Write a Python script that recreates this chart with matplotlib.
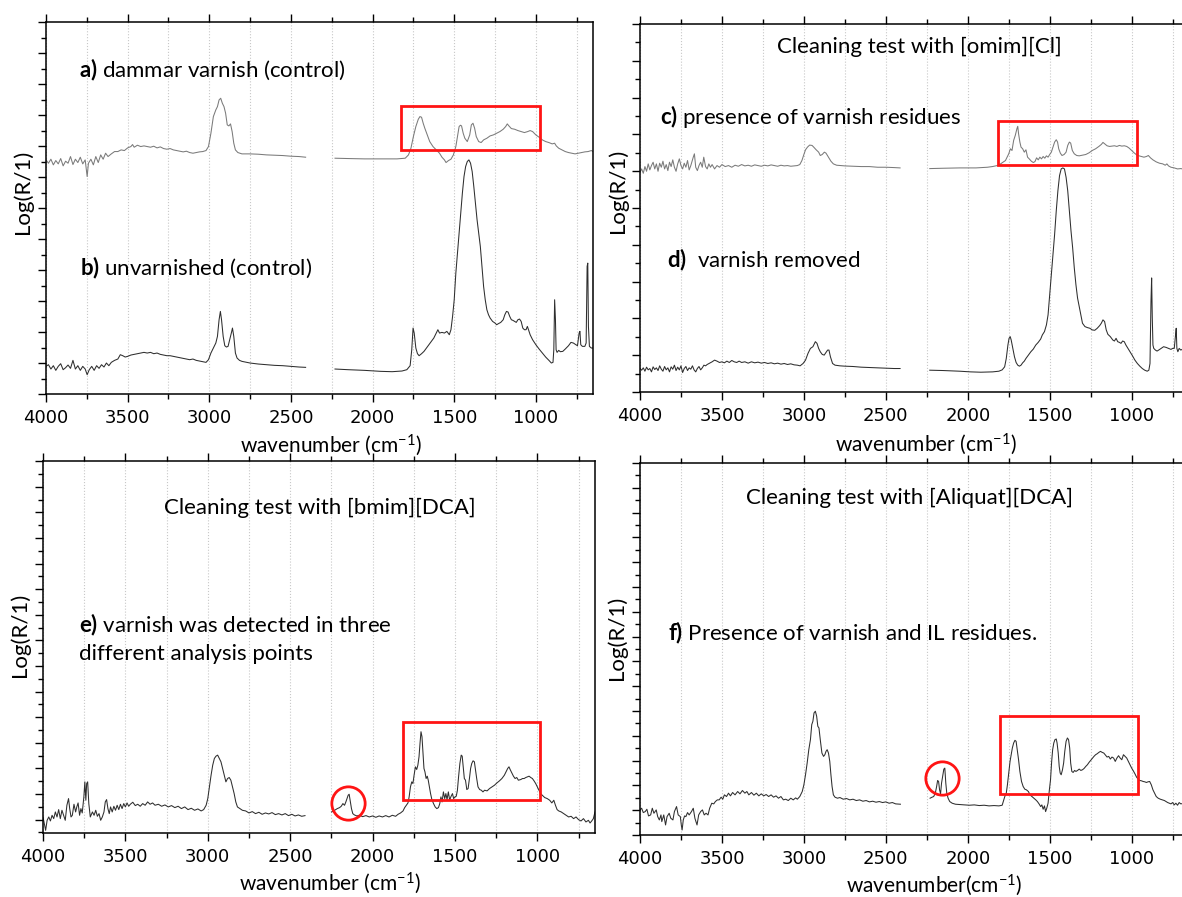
import numpy as np
import matplotlib
matplotlib.use('Agg')
import matplotlib.pyplot as plt
from matplotlib.ticker import MultipleLocator
from matplotlib.patches import Rectangle

plt.rcParams['font.family'] = ['Lato', 'DejaVu Sans']
plt.rcParams['mathtext.fontset'] = 'custom'
plt.rcParams['mathtext.rm'] = 'Lato'
plt.rcParams['mathtext.bf'] = 'Lato:bold'
plt.rcParams['mathtext.it'] = 'Lato:italic'

# ---------------- data (wavenumber, Log(R/1) in arbitrary units) ----------------
# panel a) dammar varnish (control)
a_seg1 = [(4000, 703), (3985, 693), (3970, 705), (3955, 688), (3940, 701), (3925, 691), (3910, 707),
          (3895, 685), (3880, 699), (3865, 693), (3850, 713), (3835, 689), (3820, 705), (3805, 695),
          (3790, 711), (3775, 691), (3760, 703), (3748, 653), (3740, 693), (3725, 705), (3710, 688),
          (3695, 713), (3680, 695), (3665, 718), (3650, 705), (3635, 723), (3620, 713), (3600, 721),
          (3580, 728), (3560, 728), (3540, 733), (3520, 731), (3500, 739), (3480, 743), (3470, 749),
          (3460, 741), (3440, 747), (3420, 743), (3400, 745), (3380, 743), (3360, 741), (3340, 744),
          (3320, 739), (3300, 742), (3280, 737), (3260, 735), (3240, 737), (3220, 733), (3200, 731),
          (3180, 729), (3160, 727), (3140, 729), (3120, 725), (3100, 723), (3080, 725), (3060, 727),
          (3040, 728), (3020, 731), (3005, 743), (2990, 783), (2975, 833), (2960, 853), (2950, 863),
          (2940, 883), (2930, 888), (2920, 873), (2910, 863), (2900, 843), (2890, 808), (2880, 805),
          (2870, 811), (2860, 788), (2850, 753), (2840, 733), (2825, 725), (2800, 721), (2750, 721),
          (2700, 720), (2650, 718), (2600, 717), (2550, 716), (2500, 714), (2450, 713), (2410, 711)]
a_seg2 = [(2230, 708), (2150, 707), (2050, 706), (1950, 706), (1850, 706), (1800, 708), (1780, 718),
          (1765, 738), (1750, 773), (1735, 803), (1720, 825), (1710, 833), (1700, 831), (1690, 813),
          (1680, 798), (1665, 778), (1650, 758), (1630, 743), (1610, 733), (1590, 723), (1575, 711),
          (1560, 703), (1550, 695), (1535, 701), (1520, 705), (1505, 718), (1490, 743), (1480, 773),
          (1470, 803), (1462, 807), (1455, 805), (1445, 783), (1435, 768), (1420, 758), (1405, 778),
          (1395, 808), (1385, 813), (1375, 798), (1365, 773), (1350, 758), (1335, 755), (1320, 763),
          (1300, 768), (1280, 775), (1260, 778), (1240, 783), (1220, 788), (1200, 795), (1185, 803),
          (1175, 811), (1165, 805), (1150, 797), (1130, 795), (1110, 791), (1090, 788), (1070, 785),
          (1050, 788), (1035, 791), (1020, 788), (1000, 778), (980, 771), (960, 763), (940, 758),
          (920, 755), (900, 751), (885, 753), (875, 745), (860, 738), (840, 733), (820, 728),
          (800, 725), (780, 723), (760, 721), (740, 723), (720, 725), (700, 727), (680, 728),
          (660, 731), (650, 728)]

# panel b) unvarnished (control)
b_seg1 = [(4000, 83), (3985, 88), (3970, 75), (3955, 85), (3940, 71), (3925, 83), (3910, 91), (3895, 73),
          (3880, 79), (3865, 87), (3850, 77), (3835, 101), (3820, 75), (3805, 85), (3790, 71), (3775, 83),
          (3760, 75), (3748, 58), (3735, 73), (3720, 83), (3705, 71), (3690, 85), (3675, 77), (3660, 88),
          (3645, 81), (3630, 93), (3615, 85), (3600, 95), (3580, 101), (3560, 105), (3545, 118),
          (3530, 115), (3515, 111), (3500, 113), (3480, 117), (3460, 119), (3440, 121), (3420, 123),
          (3400, 125), (3380, 123), (3360, 125), (3340, 121), (3320, 123), (3300, 119), (3280, 117),
          (3260, 115), (3240, 115), (3220, 113), (3200, 111), (3180, 109), (3160, 107), (3140, 105),
          (3120, 103), (3100, 105), (3080, 101), (3060, 99), (3040, 97), (3020, 95), (3005, 103),
          (2990, 123), (2975, 138), (2960, 153), (2950, 173), (2940, 223), (2932, 248), (2925, 223),
          (2915, 173), (2905, 145), (2895, 141), (2885, 143), (2875, 163), (2865, 183), (2858, 198),
          (2850, 173), (2840, 123), (2830, 108), (2815, 101), (2800, 98), (2750, 93), (2700, 90),
          (2650, 88), (2600, 86), (2550, 85), (2500, 83), (2450, 81), (2410, 80)]
b_seg2 = [(2230, 75), (2150, 73), (2050, 71), (1950, 68), (1880, 67), (1820, 69), (1790, 73), (1770, 85),
          (1760, 133), (1752, 198), (1745, 183), (1735, 138), (1725, 121), (1715, 115), (1700, 121),
          (1685, 128), (1670, 138), (1655, 148), (1640, 158), (1625, 168), (1610, 183), (1600, 193),
          (1590, 183), (1575, 185), (1560, 183), (1545, 188), (1530, 178), (1520, 193), (1510, 233),
          (1500, 283), (1490, 363), (1480, 423), (1470, 483), (1460, 543), (1450, 603), (1440, 653),
          (1430, 683), (1420, 698), (1410, 703), (1400, 693), (1390, 668), (1380, 623), (1370, 573),
          (1360, 523), (1350, 483), (1340, 443), (1330, 383), (1320, 323), (1310, 283), (1300, 253),
          (1290, 238), (1280, 228), (1265, 218), (1250, 213), (1240, 208), (1230, 211), (1215, 215),
          (1200, 223), (1190, 238), (1180, 248), (1170, 246), (1160, 233), (1150, 223), (1140, 221),
          (1130, 218), (1120, 215), (1110, 223), (1100, 225), (1090, 218), (1080, 198), (1070, 193),
          (1060, 193), (1052, 203), (1045, 193), (1035, 178), (1020, 163), (1000, 148), (980, 135),
          (960, 123), (940, 111), (920, 101), (905, 93), (895, 95), (890, 133), (885, 283), (880, 223),
          (876, 133), (870, 125), (860, 131), (850, 127), (835, 128), (820, 135), (800, 145), (785, 155),
          (770, 153), (755, 148), (745, 145), (735, 183), (730, 188), (725, 148), (715, 143), (700, 143),
          (692, 153), (686, 383), (682, 393), (678, 203), (672, 143), (660, 138), (650, 138)]

# panel c) presence of varnish residues
c_seg1 = [(4000, 655), (3990, 665), (3980, 652), (3970, 672), (3960, 658), (3950, 680), (3940, 662),
          (3930, 675), (3920, 685), (3910, 665), (3900, 680), (3890, 658), (3880, 682), (3870, 670),
          (3860, 688), (3850, 665), (3840, 678), (3830, 660), (3820, 685), (3810, 672), (3800, 692),
          (3790, 670), (3780, 658), (3770, 680), (3760, 695), (3750, 675), (3740, 665), (3730, 682),
          (3720, 670), (3710, 690), (3700, 662), (3690, 675), (3675, 700), (3668, 710), (3660, 670),
          (3650, 660), (3640, 675), (3630, 685), (3620, 670), (3611, 700), (3600, 672), (3590, 665),
          (3580, 680), (3570, 670), (3560, 678), (3545, 665), (3530, 675), (3515, 670), (3500, 678),
          (3480, 672), (3460, 675), (3440, 670), (3420, 676), (3400, 673), (3380, 678), (3360, 674),
          (3340, 676), (3320, 673), (3300, 677), (3280, 675), (3260, 673), (3240, 676), (3220, 674),
          (3200, 677), (3180, 675), (3160, 673), (3140, 676), (3120, 674), (3100, 675), (3080, 673),
          (3060, 674), (3040, 675), (3025, 678), (3012, 690), (3000, 708), (2990, 722), (2978, 730),
          (2965, 736), (2950, 735), (2940, 730), (2925, 722), (2910, 715), (2900, 705), (2888, 708),
          (2875, 715), (2865, 712), (2850, 700), (2835, 688), (2820, 680), (2800, 676), (2750, 674),
          (2700, 673), (2650, 672), (2600, 672), (2550, 670), (2500, 670), (2450, 669), (2413, 668)]
c_seg2 = [(2232, 666), (2150, 667), (2050, 668), (1950, 668), (1880, 670), (1850, 672), (1820, 675),
          (1800, 680), (1785, 685), (1770, 690), (1760, 700), (1750, 710), (1740, 725), (1730, 720),
          (1720, 750), (1710, 765), (1700, 785), (1695, 792), (1690, 770), (1682, 745), (1675, 730),
          (1665, 725), (1655, 715), (1645, 722), (1635, 700), (1625, 695), (1612, 688), (1600, 684),
          (1590, 687), (1580, 698), (1570, 692), (1560, 700), (1550, 695), (1540, 702), (1530, 697),
          (1520, 704), (1510, 700), (1500, 708), (1490, 715), (1480, 730), (1470, 745), (1460, 752),
          (1452, 745), (1445, 725), (1435, 712), (1425, 705), (1412, 708), (1400, 715), (1390, 735),
          (1380, 745), (1372, 742), (1362, 720), (1350, 710), (1335, 705), (1320, 704), (1300, 706),
          (1280, 708), (1260, 713), (1240, 720), (1220, 725), (1200, 732), (1185, 738), (1175, 744),
          (1165, 740), (1150, 734), (1135, 732), (1120, 733), (1105, 734), (1090, 732), (1075, 735),
          (1060, 733), (1045, 734), (1030, 732), (1015, 727), (1000, 720), (985, 713), (970, 707),
          (955, 704), (940, 702), (925, 700), (910, 702), (898, 705), (885, 698), (870, 692),
          (850, 686), (830, 682), (810, 680), (795, 676), (785, 680), (775, 674), (760, 670),
          (740, 668), (720, 665), (700, 666), (680, 664), (650, 665)]

# panel d) varnish removed
d_seg1 = [(4000, 70), (3990, 65), (3980, 72), (3970, 62), (3960, 74), (3950, 66), (3940, 70), (3930, 60),
          (3920, 75), (3910, 67), (3900, 72), (3890, 64), (3880, 78), (3870, 68), (3860, 62), (3850, 76),
          (3840, 66), (3830, 72), (3820, 60), (3810, 75), (3800, 68), (3790, 80), (3780, 64), (3770, 74),
          (3760, 66), (3750, 78), (3740, 58), (3730, 70), (3720, 76), (3710, 64), (3700, 72), (3690, 68),
          (3680, 78), (3670, 66), (3660, 60), (3650, 70), (3640, 76), (3630, 66), (3620, 72), (3610, 80),
          (3600, 78), (3590, 82), (3575, 86), (3560, 90), (3545, 95), (3530, 92), (3515, 88), (3500, 90),
          (3485, 87), (3470, 92), (3455, 88), (3440, 94), (3425, 90), (3410, 88), (3395, 92), (3380, 88),
          (3360, 90), (3340, 86), (3320, 90), (3300, 87), (3280, 89), (3260, 86), (3240, 88), (3220, 85),
          (3200, 87), (3180, 84), (3160, 86), (3140, 83), (3120, 85), (3100, 82), (3080, 84), (3060, 81),
          (3040, 80), (3023, 78), (3005, 85), (2990, 95), (2975, 115), (2960, 130), (2945, 135),
          (2930, 150), (2920, 145), (2910, 130), (2900, 120), (2888, 112), (2876, 110), (2865, 118),
          (2855, 125), (2847, 125), (2838, 105), (2825, 85), (2810, 80), (2780, 78), (2750, 77),
          (2700, 76), (2650, 74), (2600, 73), (2550, 72), (2500, 71), (2450, 70), (2413, 70)]
d_seg2 = [(2232, 65), (2150, 64), (2050, 62), (1983, 60), (1920, 59), (1848, 60), (1810, 62), (1790, 66),
          (1775, 75), (1765, 100), (1755, 140), (1748, 160), (1741, 165), (1735, 155), (1725, 130),
          (1715, 105), (1705, 88), (1695, 80), (1685, 77), (1675, 80), (1665, 87), (1655, 92),
          (1645, 100), (1630, 110), (1615, 120), (1600, 128), (1585, 140), (1570, 148), (1555, 158),
          (1545, 170), (1532, 180), (1520, 200), (1510, 230), (1500, 290), (1490, 350), (1480, 410),
          (1470, 470), (1460, 540), (1450, 600), (1440, 645), (1430, 665), (1420, 668), (1410, 665),
          (1400, 640), (1390, 600), (1380, 540), (1370, 480), (1360, 430), (1350, 370), (1340, 320),
          (1330, 280), (1320, 255), (1310, 230), (1300, 205), (1285, 195), (1270, 192), (1255, 190),
          (1240, 185), (1225, 184), (1210, 190), (1195, 198), (1185, 205), (1175, 215), (1165, 210),
          (1155, 185), (1145, 172), (1130, 165), (1115, 155), (1105, 152), (1095, 160), (1085, 150),
          (1075, 148), (1065, 145), (1055, 152), (1045, 150), (1035, 140), (1025, 132), (1010, 120),
          (995, 108), (980, 95), (965, 85), (950, 77), (935, 70), (920, 65), (905, 62), (895, 65),
          (888, 85), (882, 270), (878, 340), (874, 220), (870, 140), (865, 130), (855, 125), (845, 122),
          (835, 125), (820, 130), (805, 135), (790, 133), (775, 130), (760, 127), (750, 130), (740, 130),
          (732, 170), (728, 190), (724, 130), (718, 120), (710, 130), (700, 125), (680, 130), (650, 128)]

# panel e) [bmim][DCA]
e_seg1 = [(4000, 8), (3992, -12), (3984, -32), (3975, -2), (3965, 8), (3955, -4), (3945, 13), (3935, 3),
          (3925, 23), (3915, 8), (3905, 30), (3895, 3), (3885, 28), (3875, 13), (3865, -2), (3855, 43),
          (3845, 63), (3838, 33), (3830, 8), (3822, 13), (3812, 46), (3802, 23), (3795, 38), (3787, 50),
          (3778, 13), (3770, 33), (3762, 20), (3752, 68), (3746, 113), (3740, 58), (3735, 108),
          (3729, 113), (3722, 48), (3713, 8), (3700, 23), (3690, 13), (3680, 28), (3670, 10), (3660, 18),
          (3650, -2), (3640, 8), (3630, 23), (3622, 53), (3614, 60), (3606, 33), (3598, 18), (3590, 38),
          (3580, 23), (3570, 40), (3560, 28), (3550, 43), (3540, 30), (3530, 46), (3520, 33), (3510, 48),
          (3500, 38), (3490, 50), (3480, 40), (3470, 46), (3455, 52), (3440, 42), (3425, 46), (3410, 40),
          (3395, 48), (3380, 43), (3365, 53), (3350, 46), (3335, 50), (3320, 43), (3300, 46), (3280, 40),
          (3260, 44), (3240, 38), (3220, 42), (3200, 36), (3180, 40), (3160, 33), (3140, 38), (3120, 30),
          (3100, 34), (3080, 28), (3060, 32), (3040, 26), (3025, 30), (3010, 43), (3000, 63), (2990, 98),
          (2980, 133), (2970, 163), (2960, 183), (2950, 190), (2940, 193), (2930, 183), (2920, 173),
          (2910, 153), (2900, 133), (2890, 113), (2880, 123), (2870, 126), (2860, 118), (2850, 98),
          (2840, 78), (2830, 53), (2820, 38), (2805, 33), (2790, 28), (2770, 26), (2750, 20), (2730, 24),
          (2710, 18), (2690, 22), (2670, 16), (2650, 20), (2630, 17), (2610, 21), (2590, 15), (2570, 18),
          (2550, 14), (2530, 18), (2510, 12), (2490, 16), (2470, 11), (2450, 14), (2430, 10), (2410, 12)]
e_seg2 = [(2249, 23), (2230, 28), (2214, 33), (2200, 36), (2190, 40), (2180, 48), (2170, 43), (2162, 53),
          (2155, 63), (2148, 73), (2142, 76), (2136, 58), (2128, 33), (2120, 18), (2110, 14), (2095, 11),
          (2080, 13), (2060, 9), (2040, 12), (2020, 8), (2000, 11), (1980, 7), (1960, 11), (1940, 8),
          (1920, 12), (1900, 8), (1880, 13), (1860, 10), (1845, 16), (1830, 20), (1815, 26), (1805, 36),
          (1795, 43), (1785, 50), (1778, 68), (1770, 98), (1762, 113), (1755, 108), (1748, 133),
          (1740, 158), (1732, 150), (1725, 163), (1718, 188), (1712, 228), (1706, 263), (1700, 248),
          (1694, 198), (1688, 153), (1682, 143), (1675, 123), (1668, 130), (1662, 118), (1655, 98),
          (1648, 78), (1640, 60), (1630, 48), (1620, 38), (1610, 33), (1600, 36), (1592, 48), (1585, 68),
          (1578, 53), (1570, 83), (1562, 63), (1555, 78), (1548, 60), (1540, 83), (1532, 58), (1525, 68),
          (1515, 78), (1508, 63), (1500, 68), (1492, 70), (1485, 88), (1478, 128), (1470, 168),
          (1462, 193), (1456, 190), (1450, 158), (1443, 123), (1436, 118), (1428, 90), (1420, 93),
          (1412, 123), (1405, 153), (1398, 168), (1390, 176), (1382, 173), (1375, 148), (1368, 123),
          (1360, 98), (1350, 90), (1340, 88), (1330, 83), (1320, 88), (1305, 86), (1290, 93), (1275, 98),
          (1260, 103), (1245, 110), (1230, 116), (1215, 123), (1200, 133), (1190, 143), (1180, 153),
          (1172, 158), (1165, 150), (1155, 140), (1145, 130), (1135, 123), (1125, 126), (1115, 118),
          (1100, 120), (1090, 123), (1080, 123), (1070, 126), (1060, 128), (1050, 130), (1040, 126),
          (1030, 123), (1020, 116), (1010, 108), (1000, 98), (990, 88), (980, 78), (970, 73), (955, 66),
          (940, 63), (925, 58), (912, 50), (900, 58), (890, 43), (880, 30), (870, 26), (855, 23), (840, 18),
          (825, 13), (810, 8), (795, 10), (780, 3), (765, 8), (750, 0), (735, -4), (720, 3), (705, -7),
          (690, -2), (680, -10), (670, -4), (660, 3), (650, 23)]

# panel f) [Aliquat][DCA]
f_seg1 = [(4000, 75), (3990, 80), (3980, 67), (3968, 70), (3958, 77), (3948, 57), (3935, 60), (3925, 80),
          (3915, 65), (3901, 75), (3892, 55), (3882, 45), (3872, 60), (3867, 40), (3855, 60), (3844, 30),
          (3835, 55), (3822, 65), (3812, 50), (3799, 45), (3790, 70), (3777, 85), (3767, 60), (3754, 55),
          (3748, 30), (3743, 15), (3736, 45), (3728, 57), (3720, 55), (3710, 67), (3700, 60), (3686, 70),
          (3675, 80), (3665, 50), (3652, 30), (3642, 60), (3630, 70), (3619, 75), (3608, 60), (3597, 65),
          (3585, 60), (3575, 80), (3562, 95), (3550, 93), (3540, 100), (3528, 105), (3517, 105),
          (3505, 113), (3495, 107), (3485, 120), (3472, 115), (3460, 125), (3448, 117), (3435, 127),
          (3420, 120), (3404, 130), (3390, 123), (3375, 133), (3360, 125), (3348, 130), (3336, 120),
          (3320, 127), (3305, 119), (3290, 125), (3275, 117), (3260, 123), (3245, 117), (3230, 121),
          (3215, 115), (3200, 120), (3185, 113), (3170, 117), (3155, 110), (3140, 115), (3125, 105),
          (3111, 107), (3095, 103), (3080, 110), (3065, 105), (3050, 111), (3040, 107), (3025, 115),
          (3010, 130), (3000, 150), (2990, 180), (2980, 215), (2970, 255), (2960, 285), (2952, 330),
          (2945, 340), (2938, 365), (2930, 370), (2922, 355), (2915, 325), (2908, 320), (2900, 285),
          (2890, 245), (2880, 235), (2872, 240), (2865, 250), (2858, 255), (2850, 245), (2842, 220),
          (2835, 180), (2828, 145), (2820, 120), (2810, 113), (2795, 110), (2780, 112), (2760, 107),
          (2740, 109), (2720, 105), (2700, 107), (2680, 103), (2660, 105), (2640, 101), (2620, 103),
          (2600, 99), (2580, 101), (2560, 98), (2540, 100), (2520, 97), (2500, 99), (2480, 95), (2460, 97),
          (2440, 93), (2411, 92)]
f_seg2 = [(2230, 110), (2218, 113), (2208, 115), (2198, 125), (2190, 145), (2184, 163), (2178, 160),
          (2172, 135), (2166, 123), (2160, 155), (2152, 180), (2146, 197), (2140, 200), (2134, 155),
          (2128, 125), (2120, 110), (2110, 100), (2095, 95), (2075, 92), (2050, 91), (2020, 90), (1990, 89),
          (1960, 90), (1930, 88), (1900, 89), (1870, 87), (1840, 88), (1810, 87), (1790, 89), (1780, 105),
          (1774, 115), (1765, 125), (1758, 150), (1750, 185), (1742, 220), (1735, 240), (1728, 260),
          (1720, 275), (1712, 283), (1705, 280), (1698, 255), (1690, 225), (1682, 190), (1672, 160),
          (1662, 145), (1652, 137), (1642, 135), (1630, 130), (1620, 120), (1608, 115), (1595, 110),
          (1585, 105), (1575, 100), (1565, 93), (1555, 85), (1548, 90), (1540, 77), (1532, 87), (1525, 70),
          (1518, 80), (1510, 95), (1502, 135), (1495, 165), (1488, 220), (1482, 255), (1475, 275),
          (1468, 285), (1460, 287), (1455, 275), (1448, 245), (1442, 205), (1436, 185), (1430, 180),
          (1422, 195), (1415, 215), (1408, 250), (1400, 280), (1392, 290), (1385, 285), (1378, 260),
          (1372, 215), (1365, 190), (1357, 187), (1348, 193), (1340, 190), (1330, 193), (1320, 197),
          (1310, 193), (1300, 195), (1290, 199), (1280, 205), (1270, 210), (1260, 217), (1250, 223),
          (1240, 229), (1230, 235), (1220, 240), (1210, 243), (1200, 247), (1190, 250), (1180, 247),
          (1170, 245), (1160, 239), (1150, 233), (1140, 235), (1130, 227), (1120, 233), (1110, 230),
          (1100, 220), (1090, 230), (1080, 237), (1070, 230), (1060, 225), (1050, 240), (1040, 235),
          (1030, 230), (1020, 220), (1010, 210), (1000, 200), (990, 192), (980, 183), (970, 173),
          (960, 167), (950, 163), (940, 162), (930, 160), (920, 159), (910, 157), (900, 159), (890, 160),
          (880, 150), (870, 135), (860, 125), (850, 115), (838, 110), (825, 107), (812, 105), (800, 103),
          (790, 100), (780, 97), (770, 95), (760, 93), (750, 97), (740, 90), (730, 95), (720, 89),
          (710, 97), (700, 93), (680, 95), (650, 95)]

# highlighted regions: (wn_left, wn_right, y_bottom, y_top)
box_a = (1825, 976, 733, 865)
box_c = (1814, 970, 678, 808)
box_e = (1814, 981, 60, 291)
box_f = (1804, 962, 123, 355)
# circled DCA band: (wavenumber, y)
circle_e = (2152, 51)
circle_f = (2158, 170)

xtick_major = 500
xtick_minor = 250

# ---------------- figure ----------------
W, H = 1182, 897
fig = plt.figure(figsize=(W / 100, H / 100), dpi=100)


def axes_px(left, top, right, bottom):
    return fig.add_axes([left / W, 1 - bottom / H, (right - left) / W, (bottom - top) / H])


LIGHT = '#7a7a7a'
DARK = '#2e2e2e'
RED = '#ff1414'


def style(ax, ylim, ymaj, xlab, xlab_pos, ylab_pos):
    ax.set_xlim(4000, 650)
    ax.set_ylim(*ylim)
    ax.xaxis.set_major_locator(MultipleLocator(xtick_major))
    ax.xaxis.set_minor_locator(MultipleLocator(xtick_minor))
    ax.yaxis.set_major_locator(MultipleLocator(ymaj))
    ax.yaxis.set_minor_locator(MultipleLocator(ymaj / 2))
    ax.tick_params(which='both', direction='out', top=True, bottom=True, left=True, right=False,
                   width=1.0, labelleft=False)
    ax.tick_params(which='major', length=5.5)
    ax.tick_params(which='minor', length=3.5)
    ax.tick_params(axis='x', labelsize=13, pad=5)
    for lab in ax.get_xticklabels():
        lab.set_fontfamily('DejaVu Sans')
    ax.grid(axis='x', which='both', color='#c8c8c8', ls=':', lw=0.8)
    for sp in ax.spines.values():
        sp.set_linewidth(1.1)
    ax.set_xlabel(xlab, fontsize=15)
    ax.xaxis.set_label_coords(*xlab_pos)
    ax.xaxis.label.set_va('center')
    ax.set_ylabel('Log(R/1)', fontsize=16)
    ax.yaxis.set_label_coords(*ylab_pos)
    ax.yaxis.label.set_va('center')


def draw(ax, segs, color):
    for seg in segs:
        arr = np.array(seg, dtype=float)
        ax.plot(arr[:, 0], arr[:, 1], color=color, lw=0.75)


def box(ax, b):
    x0, x1, y0, y1 = b
    ax.add_patch(Rectangle((x0, y0), x1 - x0, y1 - y0, fill=False, ec=RED, lw=2.0, zorder=5))


def circ(ax, c):
    ax.plot([c[0]], [c[1]], marker='o', ms=24, mfc='none', mec=RED, mew=2.0, zorder=5)


xl = r'wavenumber (cm$^{-1}$)'

# a / b
ax1 = axes_px(46, 22, 593, 394)
style(ax1, (0, 1117), 93, xl, (0.52, -51 / 372), (-23 / 547, 0.543))
draw(ax1, [a_seg1, a_seg2], LIGHT)
draw(ax1, [b_seg1, b_seg2], DARK)
box(ax1, box_a)

# c / d
ax2 = axes_px(640, 24, 1189, 392)
style(ax2, (0, 1097), 109.7, xl, (0.52, -52 / 368), (-22 / 549, 0.546))
draw(ax2, [c_seg1, c_seg2], LIGHT)
draw(ax2, [d_seg1, d_seg2], DARK)
box(ax2, box_c)

# e
ax3 = axes_px(43, 461, 595, 833)
style(ax3, (-40, 1073), 76.6, xl, (0.52, -50 / 372), (-23.5 / 552, 0.532))
draw(ax3, [e_seg1, e_seg2], DARK)
box(ax3, box_e)
circ(ax3, circle_e)

# f
ax4 = axes_px(640, 463, 1189, 835)
style(ax4, (0, 1112), 74.13, r'wavenumber(cm$^{-1}$)', (0.535, -50 / 372), (-23 / 549, 0.53))
draw(ax4, [f_seg1, f_seg2], DARK)
box(ax4, box_f)
circ(ax4, circle_f)

# annotations
FS = 16


def ftext(x, y, s, ha='left'):
    fig.text(x / W, 1 - y / H, s, ha=ha, va='center', fontsize=FS)


ftext(79, 70, r'$\mathbf{a)}$ dammar varnish (control)')
ftext(80, 268, r'$\mathbf{b)}$ unvarnished (control)')
ftext(919, 47, 'Cleaning test with [omim][Cl]', ha='center')
ftext(660, 116, r'$\mathbf{c)}$ presence of varnish residues')
ftext(667, 260, r'$\mathbf{d)}$  varnish removed')
ftext(320, 508, 'Cleaning test with [bmim][DCA]', ha='center')
ftext(79, 625, r'$\mathbf{e)}$ varnish was detected in three')
ftext(79, 654, 'different analysis points')
ftext(910, 498, 'Cleaning test with [Aliquat][DCA]', ha='center')
ftext(668, 633, r'$\mathbf{f)}$ Presence of varnish and IL residues.')

fig.savefig('out.png', dpi=100)
